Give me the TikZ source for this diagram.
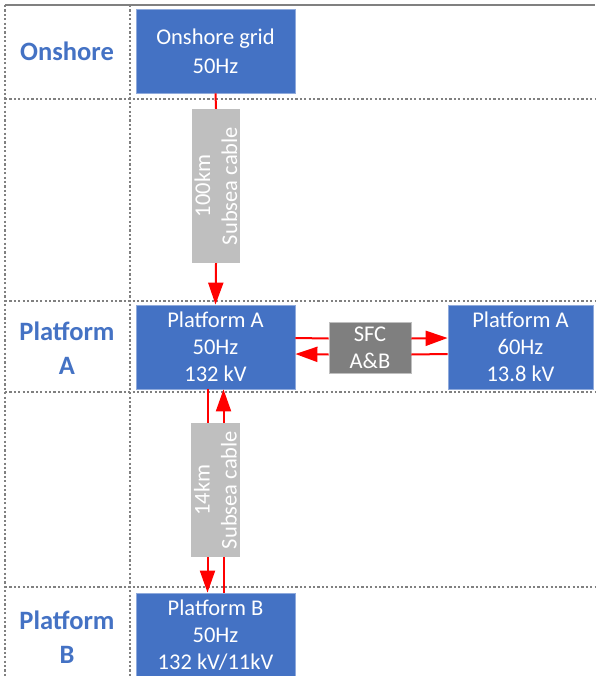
\documentclass[tikz,border=0pt]{standalone}
\usepackage{fontspec}
\setmainfont{Carlito}
\usetikzlibrary{arrows.meta}
\definecolor{boxblue}{HTML}{4472C4}
\definecolor{boxedge}{HTML}{8FAADC}
\definecolor{sfcgray}{HTML}{7F7F7F}
\definecolor{cablegray}{HTML}{BFBFBF}
\definecolor{gridgray}{HTML}{808080}
\tikzset{
  bluebox/.style={rectangle, fill=boxblue, draw=boxedge, line width=0.8pt, inner sep=0pt, text=white, align=center, font=\fontsize{22.5}{27}\selectfont},
  sfcbox/.style={rectangle, fill=sfcgray, draw=cablegray, line width=0.8pt, inner sep=0pt, text=white, align=center, font=\fontsize{22.5}{27}\selectfont},
  cablebox/.style={rectangle, fill=cablegray, draw=none, inner sep=0pt},
  cabletext/.style={rotate=90, text=white, align=center, font=\fontsize{22.5}{27}\selectfont},
  rowlabel/.style={text=boxblue, align=center, font=\bfseries\fontsize{26.5}{34}\selectfont},
  gridline/.style={gridgray, line width=1.1pt, dash pattern=on 2.2pt off 2.2pt},
  wire/.style={red, line width=2pt},
  wirearrow/.style={red, line width=2pt, -{Triangle[length=22pt,width=15pt]}},
}
\begin{document}
\begin{tikzpicture}[x=1pt,y=-1pt]
\useasboundingbox (0,0) rectangle (595,676);
% table grid
\draw[gridgray, line width=1.2pt] (5,5) -- (595,5);
\draw[gridline] (5,5) -- (5,676);
\draw[gridline] (130,5) -- (130,676);
\foreach \yy in {99,301,392,587} \draw[gridline] (5,\yy) -- (595,\yy);
% row labels
\node[rowlabel] (lon) at (67,51) {Onshore};
\node[rowlabel] (lpa) at (67,348) {Platform\\A};
\node[rowlabel] (lpb) at (67,637) {Platform\\B};
% boxes
\node[bluebox, minimum width=159pt, minimum height=84pt] (on) at (215.5,51) {Onshore grid\\[2pt]50Hz};
\node[bluebox, minimum width=159pt, minimum height=84pt] (pa) at (215.5,347) {Platform A\\50Hz\\132 kV};
\node[sfcbox, minimum width=82pt, minimum height=51pt] (sfc) at (370,347.5) {SFC\\A\&B};
\node[bluebox, minimum width=145pt, minimum height=84pt] (pa60) at (520.5,347) {Platform A\\60Hz\\13.8 kV};
\node[bluebox, minimum width=159pt, minimum height=84pt] (pb) at (215.5,635) {Platform B\\50Hz\\132 kV/11kV};
% cables
\node[cablebox, minimum width=48pt, minimum height=154pt] (c1) at (216,186) {};
\node[cabletext] (c1t) at (c1) {100km\\Subsea cable};
\node[cablebox, minimum width=49pt, minimum height=134pt] (c2) at (215.5,490) {};
\node[cabletext] (c2t) at (c2) {14km\\Subsea cable};
% connectors
\draw[wire] (on.south) -- (c1.north);
\draw[wirearrow] (c1.south) -- (pa.north);
\draw[wire] ([yshift=9pt]pa.east) -- ([yshift=9pt]sfc.west);
\draw[wirearrow] ([yshift=9pt]sfc.east) -- ([yshift=9pt]pa60.west);
\draw[wire] ([yshift=-7pt]pa60.west) -- ([yshift=-7pt]sfc.east);
\draw[wirearrow] ([yshift=-7pt]sfc.west) -- ([yshift=-7pt]pa.east);
\draw[wire] ([xshift=-8pt]pa.south) -- ([xshift=-8pt]c2.north);
\draw[wirearrow] ([xshift=-8pt]c2.south) -- ([xshift=-8pt]pb.north);
\draw[wire] ([xshift=8pt]pb.north) -- ([xshift=8pt]c2.south);
\draw[wirearrow] ([xshift=8pt]c2.north) -- ([xshift=8pt]pa.south);
\end{tikzpicture}
\end{document}
